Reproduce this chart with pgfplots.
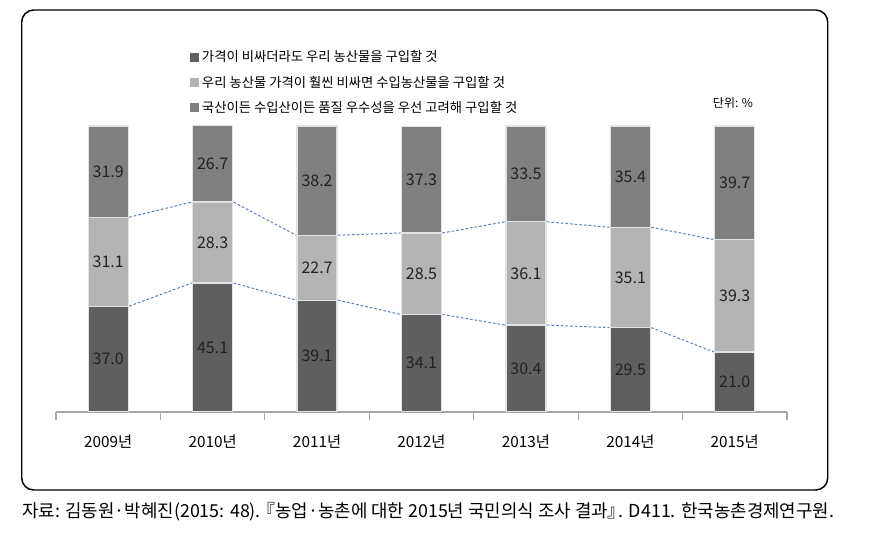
\documentclass[border=0pt]{standalone}
\usepackage{fontspec}
\setmainfont{Noto Sans CJK KR}
\usepackage{pgfplots}
\usepackage{pgfplotstable}
\pgfplotsset{compat=1.18}

\definecolor{sdark}{HTML}{5F5F5F}
\definecolor{slight}{HTML}{B4B4B4}
\definecolor{smid}{HTML}{808080}
\definecolor{baredge}{HTML}{E2E2E2}
\definecolor{axisgray}{HTML}{A6A6A6}
\definecolor{serline}{HTML}{5B7FB5}
\definecolor{lbl}{HTML}{222222}

% shares of answers, % (2009-2015)
\pgfplotstableread{
x v1 v2 v3
0 37.0 31.1 31.9
1 45.1 28.3 26.7
2 39.1 22.7 38.2
3 34.1 28.5 37.3
4 30.4 36.1 33.5
5 29.5 35.1 35.4
6 21.0 39.3 39.7
}\datatable
\pgfplotstablecreatecol[create col/expr={\thisrow{v1}/2}]{m1}\datatable
\pgfplotstablecreatecol[create col/expr={\thisrow{v1}+\thisrow{v2}/2}]{m2}\datatable
\pgfplotstablecreatecol[create col/expr={\thisrow{v1}+\thisrow{v2}+\thisrow{v3}/2}]{m3}\datatable

\pgfplotsset{
  base/.style={
    scale only axis, width=548.25pt, height=214.5pt,
    at={(42pt,107.25pt)}, anchor=south west,
    xmin=-0.5, xmax=6.5, ymin=0, ymax=100,
  },
  sq legend/.style={legend image code/.code={%
    \fill[##1,draw=none] (0pt,-3.4pt) rectangle (6.8pt,3.4pt);}},
  lbls/.style={draw=none, mark=none, nodes near coords, point meta=explicit,
    nodes near coords={\pgfmathprintnumber[fixed,fixed zerofill,precision=1]{\pgfplotspointmeta}}},
}

\begin{document}
\begin{tikzpicture}
\path[use as bounding box] (0,0) rectangle (654pt,416.25pt);
\draw[line width=1.1pt, rounded corners=9pt] (16.3pt,48.75pt) rectangle (620.8pt,408.75pt);

\begin{axis}[base,
  ybar stacked, bar width=30pt,
  axis x line*=bottom, axis y line=none,
  x axis line style={axisgray, line width=0.8pt},
  xtick={0,...,6},
  xticklabels={2009년,2010년,2011년,2012년,2013년,2014년,2015년},
  major tick length=0pt,
  minor xtick={-0.5,0.5,...,6.5}, minor tick length=6pt,
  tick align=outside, minor tick style={axisgray, line width=0.8pt},
  xticklabel style={anchor=center, yshift=-22.5pt, font=\fontsize{11.5pt}{13pt}\selectfont, text=black},
  legend style={at={(axis description cs:0.1833,1.273)}, anchor=north west,
    draw=none, fill=none, inner sep=0pt, row sep=5pt,
    font=\fontsize{10pt}{12pt}\selectfont,
    /tikz/every even column/.append style={column sep=2pt}},
  legend cell align=left,
]
\addplot[fill=sdark, draw=baredge, line width=0.9pt, sq legend] table[x=x, y=v1] {\datatable};
\addplot[fill=slight, draw=baredge, line width=0.9pt, sq legend] table[x=x, y=v2] {\datatable};
\addplot[fill=smid, draw=baredge, line width=0.9pt, sq legend] table[x=x, y=v3] {\datatable};
\legend{가격이 비싸더라도 우리 농산물을 구입할 것,
  우리 농산물 가격이 훨씬 비싸면 수입농산물을 구입할 것,
  국산이든 수입산이든 품질 우수성을 우선 고려해 구입할 것}
\end{axis}

\begin{axis}[base, hide axis, unbounded coords=jump,
  /pgf/number format/assume math mode=true,
  nodes near coords style={anchor=center, font=\fontsize{12pt}{14pt}\selectfont, text=lbl},
]
\addplot[serline, dashed, dash pattern=on 2pt off 1.5pt, line width=0.75pt] coordinates {
(0.2,37.0) (0.8,45.1) (1,nan) (1.2,45.1) (1.8,39.1) (2,nan) (2.2,39.1) (2.8,34.1) (3,nan)
(3.2,34.1) (3.8,30.4) (4,nan) (4.2,30.4) (4.8,29.5) (5,nan) (5.2,29.5) (5.8,21.0)};
\addplot[serline, dashed, dash pattern=on 2pt off 1.5pt, line width=0.75pt] coordinates {
(0.2,68.1) (0.8,73.4) (1,nan) (1.2,73.4) (1.8,61.8) (2,nan) (2.2,61.8) (2.8,62.6) (3,nan)
(3.2,62.6) (3.8,66.5) (4,nan) (4.2,66.5) (4.8,64.6) (5,nan) (5.2,64.6) (5.8,60.3)};
\addplot[lbls] table[x=x, y=m1, meta=v1] {\datatable};
\addplot[lbls] table[x=x, y=m2, meta=v2] {\datatable};
\addplot[lbls] table[x=x, y=m3, meta=v3] {\datatable};
\end{axis}

\node[font=\fontsize{9pt}{10pt}\selectfont, inner sep=0pt] at (549.75pt,339pt) {단위: \%};
\node[anchor=west, inner sep=0pt, font=\fontsize{13.4pt}{15pt}\selectfont] at (16.5pt,32.5pt)
  {자료: 김동원·박혜진(2015: 48).\hspace{-0.2em}『농업·농촌에 대한 2015년 국민의식 조사 결과』\hspace{-0.4em}. D411. 한국농촌경제연구원.};
\end{tikzpicture}
\end{document}
